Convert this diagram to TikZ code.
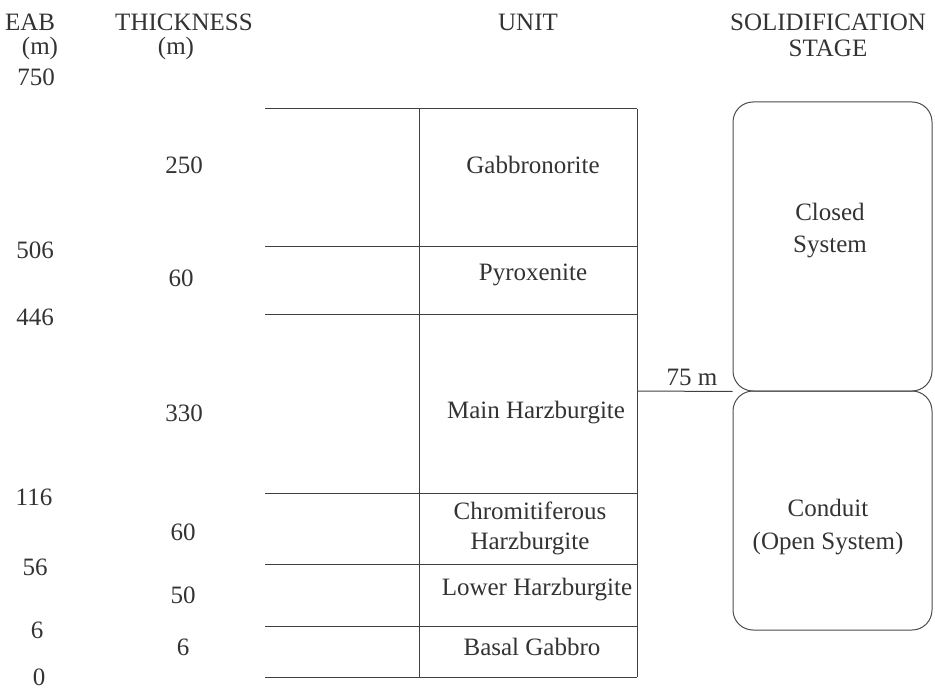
\documentclass[tikz,border=0pt]{standalone}
\usepackage{fontspec}
\setmainfont{Liberation Serif}
\begin{document}
\begin{tikzpicture}[x=0.5pt, y=-0.5pt,
  every node/.style={font=\fontsize{12.5}{15}\selectfont, text=black!80, inner sep=0pt},
  rule/.style={-, line width=0.5pt, draw=black!75},
  stage/.style={shape=rectangle, rounded corners=10pt, draw=black!70, line width=0.5pt, minimum width=99.5pt}]
\useasboundingbox (0,0) rectangle (935,689);
% column heads
\node (eab) at (30,22) {EAB};
\node (eabm) at (40,48) {(m)};
\node (thick) at (184,22) {THICKNESS};
\node (thickm) at (176,48) {(m)};
\node (unit) at (528,22) {UNIT};
\node (solid) at (828,22) {SOLIDIFICATION};
\node (stg) at (828,48) {STAGE};
% EAB
\node (e750) at (36,77) {750};
\node (e506) at (35,250) {506};
\node (e446) at (35,317) {446};
\node (e116) at (34,497) {116};
\node (e56) at (35,567) {56};
\node (e6) at (37,630) {6};
\node (e0) at (39,677) {0};
% thickness
\node (t250) at (184,165) {250};
\node (t60a) at (181,278) {60};
\node (t330) at (184,413) {330};
\node (t60b) at (183,532) {60};
\node (t50) at (183,595) {50};
\node (t6) at (183,647) {6};
% unit boundaries
\coordinate (w1) at (265,109); \coordinate (u1) at (419,109); \coordinate (r1) at (637,109);
\coordinate (w2) at (265,247); \coordinate (r2) at (637,247);
\coordinate (w3) at (265,314); \coordinate (r3) at (637,314);
\coordinate (w4) at (265,493); \coordinate (r4) at (637,493);
\coordinate (w5) at (265,564); \coordinate (r5) at (637,564);
\coordinate (w6) at (265,626); \coordinate (r6) at (637,626);
\coordinate (w7) at (265,677); \coordinate (u7) at (419,677); \coordinate (r7) at (637,677);
\coordinate (r75) at (637,391);
\path [rule] (w1) edge (r1);
\path [rule] (w2) edge (r2);
\path [rule] (w3) edge (r3);
\path [rule] (w4) edge (r4);
\path [rule] (w5) edge (r5);
\path [rule] (w6) edge (r6);
\path [rule] (w7) edge (r7);
\path [rule] (u1) edge (u7);
\path [rule] (r1) edge (r7);
% units
\node (gabbro) at (533,165) {Gabbronorite};
\node (pyrox) at (533,275) {Pyroxenite};
\node (mainhz) at (536,413) {Main Harzburgite};
\node[align=center] (chromhz) at (530,528) {Chromitiferous\\Harzburgite};
\node (lowerhz) at (537,590) {Lower Harzburgite};
\node (basal) at (532,647) {Basal Gabbro};
% solidification stage
\node[stage, minimum height=144.5pt] (closed) at (832.5,246.5) {};
\node[stage, minimum height=119.5pt] (conduit) at (832.5,510.5) {};
\node[align=center, font=\fontsize{12.5}{16}\selectfont] (closedtxt) at (830,231) {Closed\\System};
\node[align=center, font=\fontsize{12.5}{16.5}\selectfont] (conduittxt) at (828,527) {Conduit\\(Open System)};
\node (m75) at (692,377) {75 m};
\path [rule] (r75) edge (closed.south west);
\end{tikzpicture}
\end{document}
